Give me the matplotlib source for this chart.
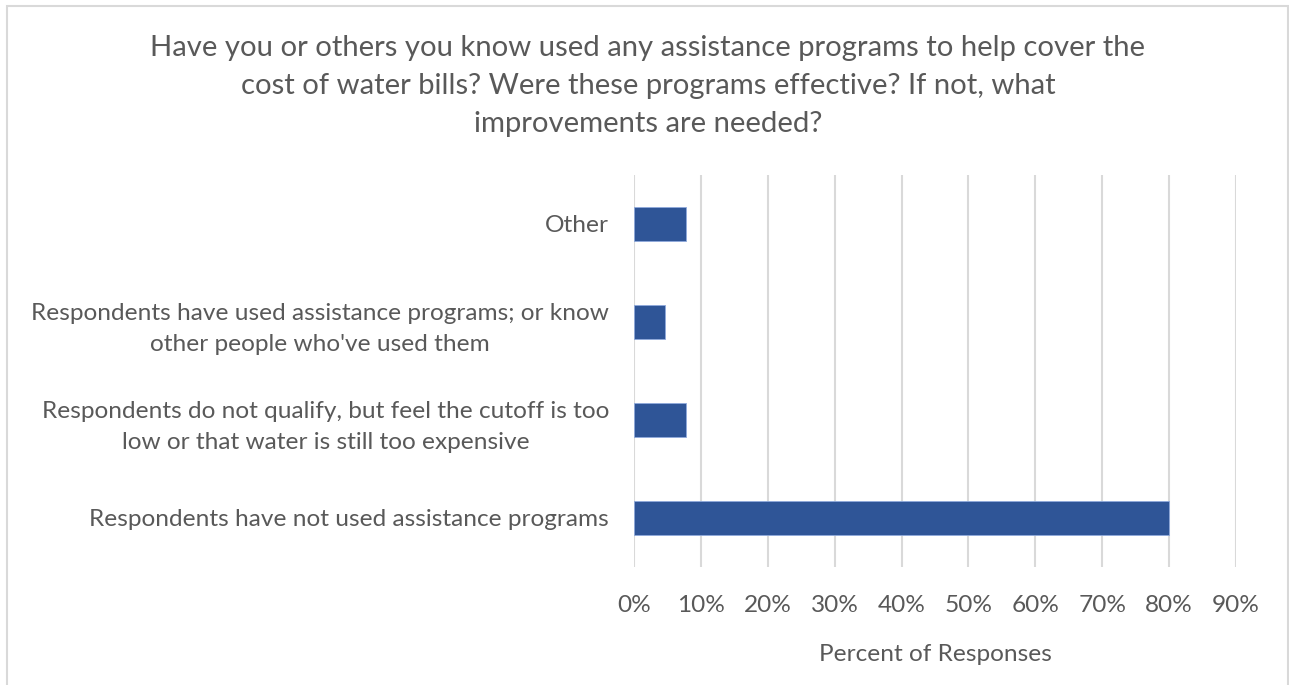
import matplotlib.pyplot as plt
from matplotlib.patches import Rectangle
from matplotlib.ticker import FuncFormatter, MultipleLocator

plt.rcParams['font.family'] = ['Lato', 'DejaVu Sans']

TEXT = '#595959'
GRID = '#d9d9d9'
BAR = '#2f5597'

categories = [
    'Respondents have not used assistance programs',
    'Respondents do not qualify, but feel the cutoff is too\nlow or that water is still too expensive',
    "Respondents have used assistance programs; or know\nother people who've used them",
    'Other',
]
percent = [80.0, 7.7, 4.6, 7.7]

title = ('Have you or others you know used any assistance programs to help cover the\n'
         'cost of water bills? Were these programs effective? If not, what\n'
         'improvements are needed?')

fig = plt.figure(figsize=(12.89, 6.85), dpi=100)
ax = fig.add_axes([634 / 1289, 1 - 567 / 685, (1236 - 634) / 1289, (567 - 175) / 685])

ypos = list(range(len(categories)))
ax.barh(ypos, percent, height=0.35, color=BAR, edgecolor='#8faadc', linewidth=0.6, zorder=3)

ax.set_xlim(0, 90)
ax.set_ylim(-0.5, len(categories) - 0.5)
ax.xaxis.set_major_locator(MultipleLocator(10))
ax.xaxis.set_major_formatter(FuncFormatter(lambda v, _: f'{v:.0f}%'))
ax.grid(axis='x', color=GRID, linewidth=1.5, zorder=0)
for s in ax.spines.values():
    s.set_visible(False)

ax.set_yticks(ypos)
ax.set_yticklabels(categories, multialignment='center')
ax.tick_params(axis='both', length=0, colors=TEXT, labelsize=17.6)
ax.tick_params(axis='y', pad=18)
ax.tick_params(axis='x', pad=20)
for lab in ax.get_yticklabels():
    lab.set_linespacing(1.6)

ax.set_xlabel('Percent of Responses', color=TEXT, fontsize=17.6, labelpad=20)

fig.text(648 / 1289, 1 - 86 / 685, title, ha='center', va='center',
         fontsize=21.1, color=TEXT, linespacing=1.57)

# light chart-area frame
fig.patches.append(Rectangle((7 / 1289, -0.05), (1288 - 7) / 1289, 1.05 - 6 / 685,
                             transform=fig.transFigure, fill=False,
                             edgecolor=GRID, linewidth=1.5))

fig.savefig('out.png', dpi=100, facecolor='white')
